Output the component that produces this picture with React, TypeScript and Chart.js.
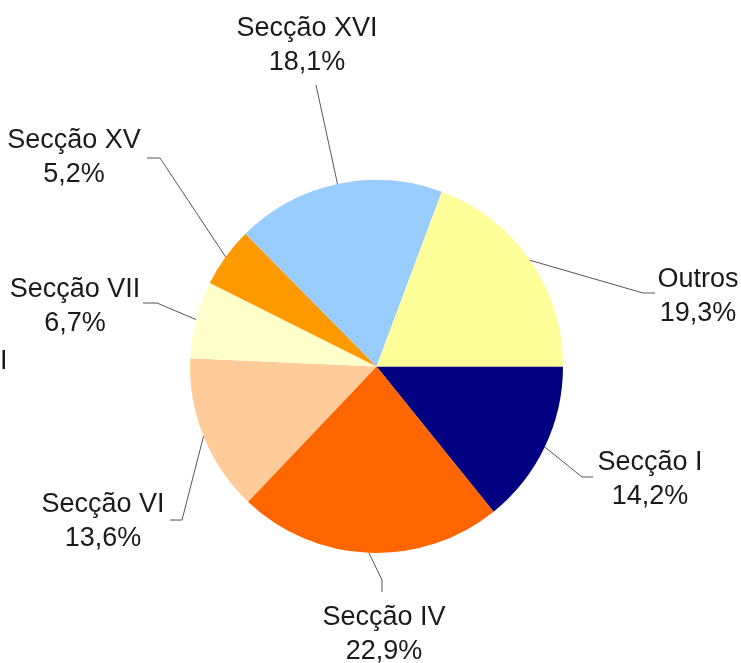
import React, { useEffect, useRef } from "react";
import { Chart, registerables } from "chart.js";

Chart.register(...registerables);

const categories = ["Secção I", "Secção IV", "Secção VI", "Secção VII", "Secção XV", "Secção XVI", "Outros"];
const values = [14.2, 22.9, 13.6, 6.7, 5.2, 18.1, 19.3];
const valueLabels = ["14,2%", "22,9%", "13,6%", "6,7%", "5,2%", "18,1%", "19,3%"];
const colors = ["#000080", "#FF6600", "#FFCC99", "#FFFFCC", "#FF9900", "#99CCFF", "#FFFF99"];

// label layout: text centre x, first baseline y, elbow point, leader end point
const labelLayout = [
  { tx: 650, ty: 470, ex: 582, ey: 477, hx: 593, hy: 477 },
  { tx: 384, ty: 625, ex: 382, ey: 580, hx: 382, hy: 592 },
  { tx: 103, ty: 512, ex: 182, ey: 520, hx: 170, hy: 520 },
  { tx: 75, ty: 297, ex: 157, ey: 303, hx: 143, hy: 303 },
  { tx: 74, ty: 148, ex: 160, ey: 158, hx: 147, hy: 158 },
  { tx: 307, ty: 36, ex: 316, ey: 85, hx: 316, hy: 85 },
  { tx: 698, ty: 287, ex: 643, ey: 293, hx: 655, hy: 293 },
];

const FONT = '27px "Liberation Sans", Arial, sans-serif';
const LINE_GAP = 34;

const labelPlugin = {
  id: "pieLabels",
  afterDraw(chart: any) {
    const ctx = chart.ctx;
    const meta = chart.getDatasetMeta(0);
    ctx.save();
    ctx.strokeStyle = "#555555";
    ctx.lineWidth = 1;
    meta.data.forEach((arc: any, i: number) => {
      const p = arc.getProps(["x", "y", "startAngle", "endAngle", "outerRadius"], true);
      const mid = (p.startAngle + p.endAngle) / 2;
      const sx = p.x + p.outerRadius * Math.cos(mid);
      const sy = p.y + p.outerRadius * Math.sin(mid);
      const L = labelLayout[i];
      ctx.beginPath();
      ctx.moveTo(sx, sy);
      ctx.lineTo(L.ex, L.ey);
      ctx.lineTo(L.hx, L.hy);
      ctx.stroke();
      ctx.fillStyle = "#1a1a1a";
      ctx.font = FONT;
      ctx.textAlign = "center";
      ctx.textBaseline = "alphabetic";
      ctx.fillText(categories[i], L.tx, L.ty);
      ctx.fillText(valueLabels[i], L.tx, L.ty + LINE_GAP);
    });
    // cut-off fragment at the left edge
    ctx.textAlign = "left";
    ctx.fillText("I", 0, 369);
    ctx.restore();
  },
};

export default function App() {
  const ref = useRef<HTMLCanvasElement>(null);
  useEffect(() => {
    if (!ref.current) return;
    const chart = new Chart(ref.current, {
      type: "pie",
      data: {
        labels: categories,
        datasets: [
          {
            data: values,
            backgroundColor: colors,
            borderWidth: 0,
          },
        ],
      },
      options: {
        responsive: false,
        animation: false,
        devicePixelRatio: 1,
        rotation: 90,
        layout: { padding: { left: 190, right: 178, top: 180, bottom: 110 } },
        plugins: {
          legend: { display: false },
          tooltip: { enabled: false },
        },
      },
      plugins: [labelPlugin],
    });
    return () => chart.destroy();
  }, []);
  return (
    <div style={{ position: "fixed", left: 0, top: 0, width: 741, height: 663, background: "#ffffff" }}>
      <canvas ref={ref} width={741} height={663} style={{ display: "block" }} />
    </div>
  );
}
